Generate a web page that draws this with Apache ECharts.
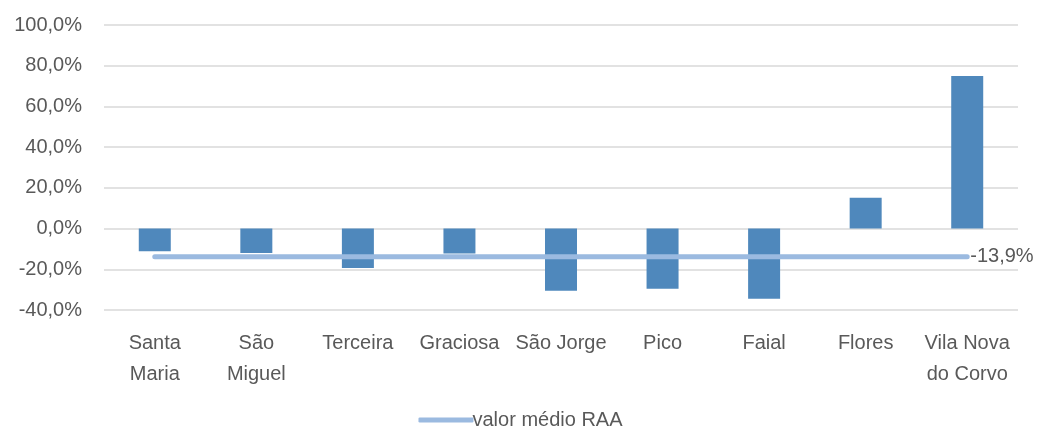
<!DOCTYPE html>
<html>
<head>
<meta charset="utf-8">
<script src="https://cdn.jsdelivr.net/npm/echarts@6/dist/echarts.min.js"></script>
<style>
html,body{margin:0;padding:0;background:#fff;}
#chart{width:1041px;height:432px;}
</style>
</head>
<body>
<div id="chart"></div>
<script>
const categories = ["Santa\nMaria", "São\nMiguel", "Terceira", "Graciosa", "São Jorge", "Pico", "Faial", "Flores", "Vila Nova\ndo Corvo"];
const barValues = [-11.2, -12.0, -19.4, -12.2, -30.6, -29.6, -34.5, 15.1, 74.9];
const meanValues = [-13.9, -13.9, -13.9, -13.9, -13.9, -13.9, -13.9, -13.9, -13.9];
const yMin = -40, yMax = 100, yStep = 20;
const meanName = "valor médio RAA";

const fmt = v => v.toFixed(1).replace('.', ',') + '%';
const textColor = '#595959';
const font = 'Liberation Sans';

const chart = echarts.init(document.getElementById('chart'), null, {renderer: 'canvas'});
chart.setOption({
  animation: false,
  backgroundColor: '#ffffff',
  textStyle: {fontFamily: font, color: textColor},
  grid: {left: 104, right: 23, top: 25, bottom: 122, containLabel: false},
  legend: {
    data: [meanName],
    bottom: -3,
    left: 'center',
    icon: 'roundRect',
    itemWidth: 55,
    itemHeight: 5,
    itemGap: 4,
    textStyle: {fontFamily: font, fontSize: 20, color: textColor, padding: [0,0,0,-6]}
  },
  xAxis: {
    type: 'category',
    data: categories,
    axisLine: {show: false},
    axisTick: {show: false},
    axisLabel: {fontFamily: font, fontSize: 20, color: textColor, margin: 18, lineHeight: 31, interval: 0}
  },
  yAxis: {
    type: 'value',
    min: yMin, max: yMax, interval: yStep,
    axisLine: {show: false},
    axisTick: {show: false},
    splitLine: {lineStyle: {color: '#D9D9D9', width: 1.5}},
    axisLabel: {fontFamily: font, fontSize: 20, color: textColor, margin: 22, formatter: v => fmt(v)}
  },
  series: [
    {
      name: 'valores',
      type: 'bar',
      data: barValues,
      barWidth: 32,
      itemStyle: {color: '#4F88BC'},
      z: 2
    },
    {
      name: meanName,
      type: 'line',
      data: meanValues,
      symbol: 'none',
      lineStyle: {color: '#9BBAE0', width: 5, cap: 'round'},
      itemStyle: {color: '#9BBAE0'},
      endLabel: {show: true, distance: 3, formatter: p => fmt(p.value), fontFamily: font, fontSize: 20, color: textColor},
      z: 3
    }
  ]
});
</script>
</body>
</html>
